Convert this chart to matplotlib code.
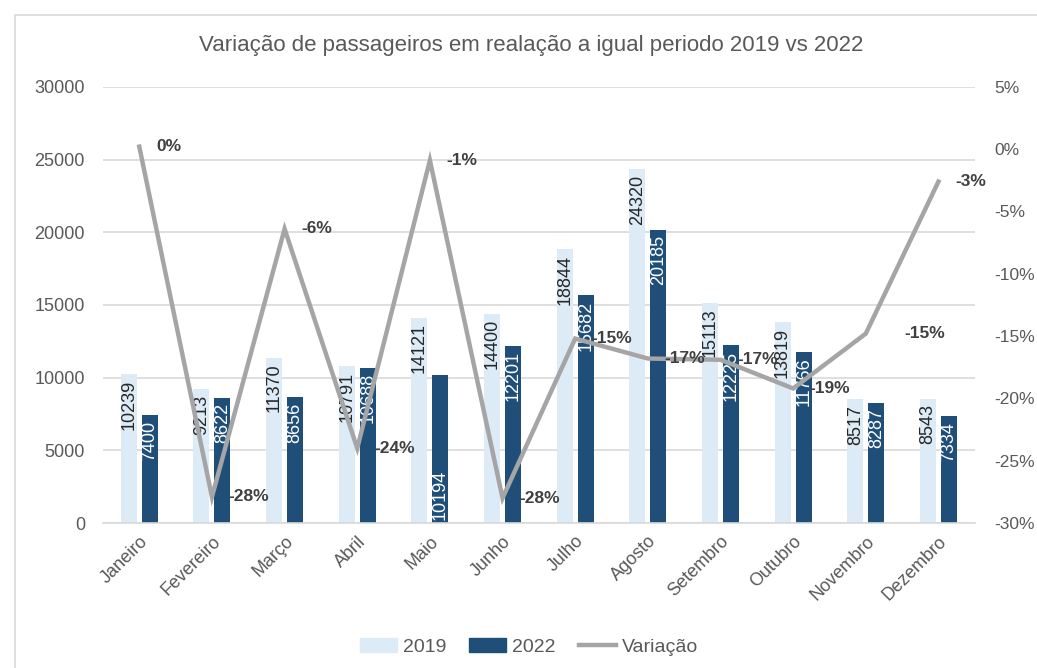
import matplotlib
matplotlib.use('Agg')
import matplotlib.pyplot as plt
import numpy as np
from matplotlib.patches import Patch, Rectangle
from matplotlib.lines import Line2D

plt.rcParams['font.family'] = ['Liberation Sans', 'DejaVu Sans']

meses = ['Janeiro', 'Fevereiro', 'Março', 'Abril', 'Maio', 'Junho',
         'Julho', 'Agosto', 'Setembro', 'Outubro', 'Novembro', 'Dezembro']
pax_2019 = [10239, 9213, 11370, 10791, 14121, 14400, 18844, 24320, 15113, 13819, 8517, 8543]
pax_2022 = [7400, 8622, 8656, 10688, 10194, 12201, 15682, 20185, 12225, 11766, 8287, 7334]
variacao = [0.2, -27.9, -6.4, -24.0, -0.9, -28.0, -15.2, -16.8, -16.9, -19.2, -14.8, -2.6]

C19 = '#DDEBF7'
C22 = '#1F4E79'
CLINE = '#A5A5A5'
TXT = '#595959'

fig = plt.figure(figsize=(10.37, 6.68), dpi=100)
ax = fig.add_axes([0.0993, 0.217, 0.8407, 0.653])

# chart border
fig.patches.append(Rectangle((0.0145, -0.1), 1.2, 1.0775, transform=fig.transFigure,
                             fill=False, edgecolor='#D9D9D9', linewidth=1.2))

x = np.arange(len(meses))
w = 0.22
ax.bar(x - 0.145, pax_2019, w, color=C19, zorder=2)
ax.bar(x + 0.145, pax_2022, w, color=C22, zorder=2)

ax.set_ylim(0, 30000)
ax.set_yticks(range(0, 30001, 5000))
ax.set_xlim(-0.5, len(meses) - 0.5)
ax.set_xticks(x)
ax.set_xticklabels(meses, rotation=45, ha='right', rotation_mode='anchor',
                   fontsize=13, color=TXT)
ax.tick_params(axis='y', labelsize=13, labelcolor=TXT, length=0, pad=13)
ax.tick_params(axis='x', length=0, pad=7)
ax.grid(axis='y', color='#D9D9D9', linewidth=1.2, zorder=0)
ax.set_axisbelow(True)
for s in ['top', 'right', 'left']:
    ax.spines[s].set_visible(False)
ax.spines['bottom'].set_color('#D9D9D9')
ax.spines['bottom'].set_linewidth(1.2)

for i, v in enumerate(pax_2019):
    ax.annotate(str(v), xy=(x[i] - 0.145, v), xytext=(0, -4), textcoords='offset points',
                rotation=90, ha='center', va='top', fontsize=13, color='#262626', zorder=4)
for i, v in enumerate(pax_2022):
    if meses[i] == 'Maio':
        ax.annotate(str(v), xy=(x[i] + 0.145, 0), xytext=(0, 2), textcoords='offset points',
                    rotation=90, ha='center', va='bottom', fontsize=13, color='white', zorder=4)
    else:
        ax.annotate(str(v), xy=(x[i] + 0.145, v), xytext=(0, -4), textcoords='offset points',
                    rotation=90, ha='center', va='top', fontsize=13, color='white', zorder=4)

ax2 = ax.twinx()
ax2.plot(x, variacao, color=CLINE, linewidth=3.2, zorder=5, solid_joinstyle='miter')
ax2.set_ylim(-30, 5)
ax2.set_yticks(range(-30, 6, 5))
ax2.set_yticklabels([f'{t}%' for t in range(-30, 6, 5)])
ax2.tick_params(axis='y', labelsize=12.5, labelcolor=TXT, length=0, pad=14)
for s in ax2.spines.values():
    s.set_visible(False)

for i, v in enumerate(variacao):
    dx = 28 if meses[i] == 'Novembro' else 12
    ax2.annotate(f'{v:.0f}%', xy=(x[i], v), xytext=(dx, 0), textcoords='offset points',
                 ha='left', va='center', fontsize=12.5, fontweight='bold', color='#404040',
                 zorder=6)

fig.text(0.512, 0.932, 'Variação de passageiros em realação a igual periodo 2019 vs 2022',
         ha='center', va='center', fontsize=16, color=TXT)

handles = [Patch(color=C19, label='2019'), Patch(color=C22, label='2022'),
           Line2D([], [], color=CLINE, linewidth=3.2, label='Variação')]
fig.legend(handles=handles, loc='center', bbox_to_anchor=(0.51, 0.031), ncol=3,
           frameon=False, fontsize=14, labelcolor=TXT, handlelength=1.9,
           handleheight=0.7, columnspacing=1.2, handletextpad=0.3)

fig.savefig('out.png', dpi=100)
plt.close(fig)
